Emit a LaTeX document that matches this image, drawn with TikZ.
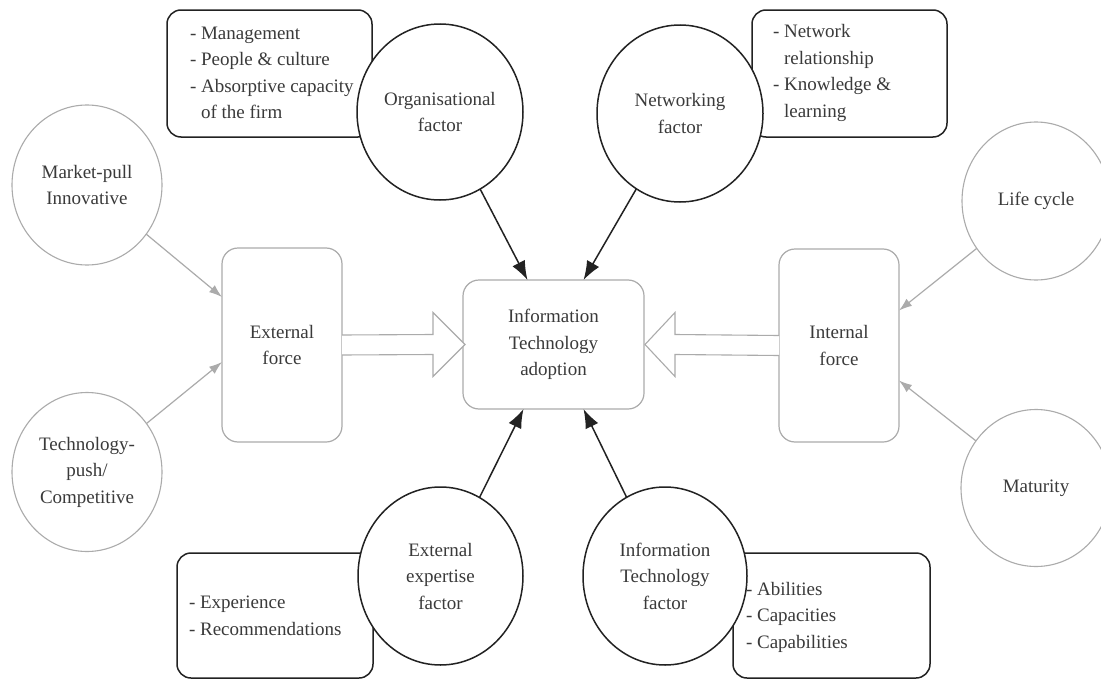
\documentclass[tikz,border=0pt]{standalone}
\usepackage{fontspec}
\setmainfont{Liberation Serif}
\usetikzlibrary{shapes.geometric,arrows.meta,calc}
\definecolor{lgray}{HTML}{ABABAB}
\definecolor{txtc}{HTML}{3A3A3A}
\definecolor{dline}{HTML}{222222}
\tikzset{
  base/.style={font=\fontsize{19}{26.5}\selectfont, text=txtc, inner sep=0pt, outer sep=0pt},
  gbox/.style={base, draw=lgray, line width=1.2pt, rounded corners=16pt, fill=white, align=center},
  gcirc/.style={base, ellipse, draw=lgray, line width=1.1pt, fill=white, align=center},
  fbox/.style={base, draw=dline, line width=1.5pt, rounded corners=14pt},
  fcirc/.style={base, ellipse, draw=dline, line width=1.5pt, fill=white, align=center},
  ltxt/.style={base, anchor=west, align=left},
  garrow/.style={draw=lgray, line width=1.2pt, -{Latex[length=13pt,width=9pt]}},
  barrow/.style={draw=dline, line width=1.5pt, -{Latex[length=19pt,width=14pt]}},
  hollow/.style={draw=lgray, line width=1.1pt, fill=white, line join=miter}
}
\begin{document}
\begin{tikzpicture}[x=1pt,y=-1pt]
\useasboundingbox[fill=white] (0,0) rectangle (1101,680);

% central and force boxes
\node[gbox, minimum width=181pt, minimum height=129pt] (ita) at (553.5,344.5) {Information\\Technology\\adoption};
\node[gbox, minimum width=120pt, minimum height=194pt] (ext) at (282,345) {External\\force};
\node[gbox, minimum width=120pt, minimum height=193pt] (int) at (839,345.5) {Internal\\force};

% grey circles
\node[gcirc, minimum width=150pt, minimum height=160pt] (mp) at (87,185) {Market-pull\\Innovative};
\node[gcirc, minimum width=150pt, minimum height=159pt] (tp) at (87,472) {Technology-\\push/\\Competitive};
\node[gcirc, minimum width=148pt, minimum height=158pt] (lc) at (1036,201) {Life cycle};
\node[gcirc, minimum width=150pt, minimum height=157pt] (mat) at (1036,488) {Maturity};

% grey arrows
\draw[garrow] (mp) -- ($(ext.west)+(0,-48)$);
\draw[garrow] (tp) -- ($(ext.west)+(0,17)$);
\draw[garrow] (lc) -- ($(int.east)+(0,-35)$);
\draw[garrow] (mat) -- ($(int.east)+(0,35)$);

% hollow arrows
\draw[hollow] ($(ext.east)+(0,-10)$) -- ($(ita.west)+(-30,-10)$) -- ($(ita.west)+(-30,-32)$)
  -- ($(ita.west)+(2,0)$) -- ($(ita.west)+(-30,32)$) -- ($(ita.west)+(-30,10)$) -- ($(ext.east)+(0,10)$);
\draw[hollow] ($(int.west)+(0,-10)$) -- ($(ita.east)+(31,-10)$) -- ($(ita.east)+(31,-32)$)
  -- ($(ita.east)+(1,0)$) -- ($(ita.east)+(31,32)$) -- ($(ita.east)+(31,10)$) -- ($(int.west)+(0,10)$);

% factor boxes
\node[fbox, minimum width=205pt, minimum height=127pt] (orgbox) at (269.5,73.5) {};
\node[fbox, minimum width=195pt, minimum height=127pt] (netbox) at (849.5,73.5) {};
\node[fbox, minimum width=196pt, minimum height=125pt] (expbox) at (275,615.5) {};
\node[fbox, minimum width=197pt, minimum height=125pt] (itbox) at (831.5,615.5) {};

% factor circles
\node[fcirc, minimum width=166pt, minimum height=176pt] (org) at (440,112) {Organisational\\factor};
\node[fcirc, minimum width=166pt, minimum height=177pt] (net) at (680,113.5) {Networking\\factor};
\node[fcirc, minimum width=165pt, minimum height=178pt] (exp) at (440.5,576) {External\\expertise\\factor};
\node[fcirc, minimum width=164pt, minimum height=178pt] (itf) at (665,576) {Information\\Technology\\factor};

% box texts
\node[ltxt] (orgtxt) at (190,73) {- Management\\- People \& culture\\- Absorptive capacity\\\hphantom{- }of the firm};
\node[ltxt] (nettxt) at (773,73) {- Network\\\hphantom{- }relationship\\- Knowledge \&\\\hphantom{- }learning};
\node[ltxt] (exptxt) at (189,616) {- Experience\\- Recommendations};
\node[ltxt] (ittxt) at (746,617) {- Abilities\\- Capacities\\- Capabilities};

% black arrows
\draw[barrow] (org) -- ($(ita.north)+(-26,0)$);
\draw[barrow] (net) -- ($(ita.north)+(30,0)$);
\draw[barrow] (exp) -- ($(ita.south)+(-30,0)$);
\draw[barrow] (itf) -- ($(ita.south)+(30,0)$);
\end{tikzpicture}
\end{document}
